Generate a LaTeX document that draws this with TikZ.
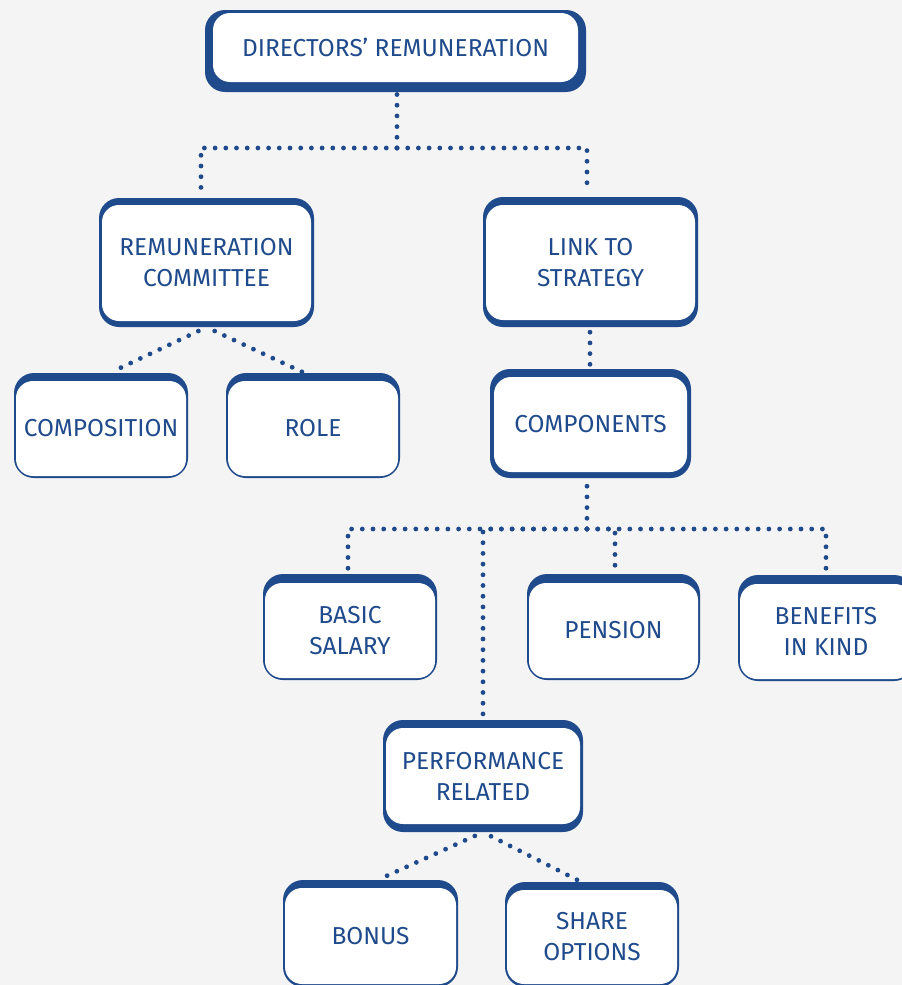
\documentclass[tikz,border=0pt]{standalone}
\usepackage{fontspec}
\setmainfont{Fira Sans}
\definecolor{boxblue}{RGB}{31,74,139}
\definecolor{bg}{RGB}{244,244,244}
\tikzset{
  dots/.style={boxblue, line width=4.8pt, dash pattern=on 0pt off 10.7pt, line cap=round},
  boxtext/.style={text=boxblue, align=center, font=\fontsize{24.5}{31}\selectfont, inner sep=0pt},
}
% #1 name, #2 x0, #3 y0, #4 x1, #5 y1, #6 top, #7 bottom, #8 side, #9 text
\newcommand\mybox[9]{%
  \fill[boxblue, rounded corners=20pt] (#2,#3) rectangle (#4,#5);
  \fill[white, rounded corners=17pt] (#2+#8,#3+#6) rectangle (#4-#8,#5-#7);
  \node[minimum width={(#4-#2)*1pt}, minimum height={(#5-#3)*1pt}, inner sep=0pt] (#1) at ({(#2+#4)/2},{(#3+#5)/2}) {};
  \node[boxtext] (#1t) at ({(#2+#4)/2},{(#3+#6+#5-#7)/2}) {#9};
}
\begin{document}
\begin{tikzpicture}[x=1pt,y=-1pt]
\fill[bg] (0,0) rectangle (902,985);
\useasboundingbox (0,0) rectangle (902,985);
\clip (0,0) rectangle (902,985);

\mybox{dr}{205}{10}{586}{92}{3}{10}{8}{DIRECTORS’ REMUNERATION}
\mybox{rc}{99}{198}{314}{327}{7}{6}{3}{REMUNERATION\\COMMITTEE}
\mybox{ls}{483}{197}{698}{327}{8}{7}{3}{LINK TO\\STRATEGY}
\mybox{co}{14}{373}{188}{478}{8}{2}{2}{COMPOSITION}
\mybox{ro}{226}{373}{400}{478}{8}{2}{2}{ROLE}
\mybox{cp}{490}{369}{691}{478}{8}{6}{4}{COMPONENTS}
\mybox{bs}{263}{574}{437}{680}{9}{2}{2}{BASIC\\SALARY}
\mybox{pe}{527}{574}{700}{680}{9}{2}{2}{PENSION}
\mybox{bk}{738}{575}{914}{681}{9}{2}{2}{BENEFITS\\IN KIND}
\mybox{pr}{383}{720}{583}{832}{8}{8}{3}{PERFORMANCE\\RELATED}
\mybox{bo}{283}{880}{458}{987}{8}{3}{2}{BONUS}
\mybox{so}{505}{882}{679}{987}{8}{3}{2}{SHARE\\OPTIONS}

% junctions
\coordinate (j1) at (397,148);
\coordinate (j2) at (587,529);

\draw[dots, shorten >=1pt] (j1) -- (j1 |- dr.south);
\draw[dots, shorten >=6pt] (j1) -| ([xshift=-5.5pt]rc.north);
\draw[dots, shorten >=6pt] (j1) -| ([xshift=-3.5pt]ls.north);

\draw[dots, shorten <=9pt, shorten >=2pt] (rc.south) -- ([xshift=9pt]co.north);
\draw[dots, shorten <=9pt, shorten >=2pt] (rc.south) -- ([xshift=-9pt]ro.north);

\draw[dots, shorten <=5pt, shorten >=2pt] ([xshift=-0.5pt]ls.south) -- ([xshift=-0.5pt]cp.north);

\draw[dots, shorten >=6pt] (j2) -- (j2 |- cp.south);
\draw[dots, shorten >=3pt] (j2) -| ([xshift=-2pt]bs.north);
\draw[dots, shorten >=3pt] (j2) -| ([xshift=1.5pt]pe.north);
\draw[dots, shorten >=6pt] (j2) -| (bk.north);
\draw[dots, shorten >=3pt] (j2) -| (pr.north);

\draw[dots, shorten <=9pt, shorten >=2pt] (pr.south) -- ([xshift=7.5pt]bo.north);
\draw[dots, shorten <=9pt, shorten >=2pt] (pr.south) -- ([xshift=-11pt]so.north);
\end{tikzpicture}
\end{document}
